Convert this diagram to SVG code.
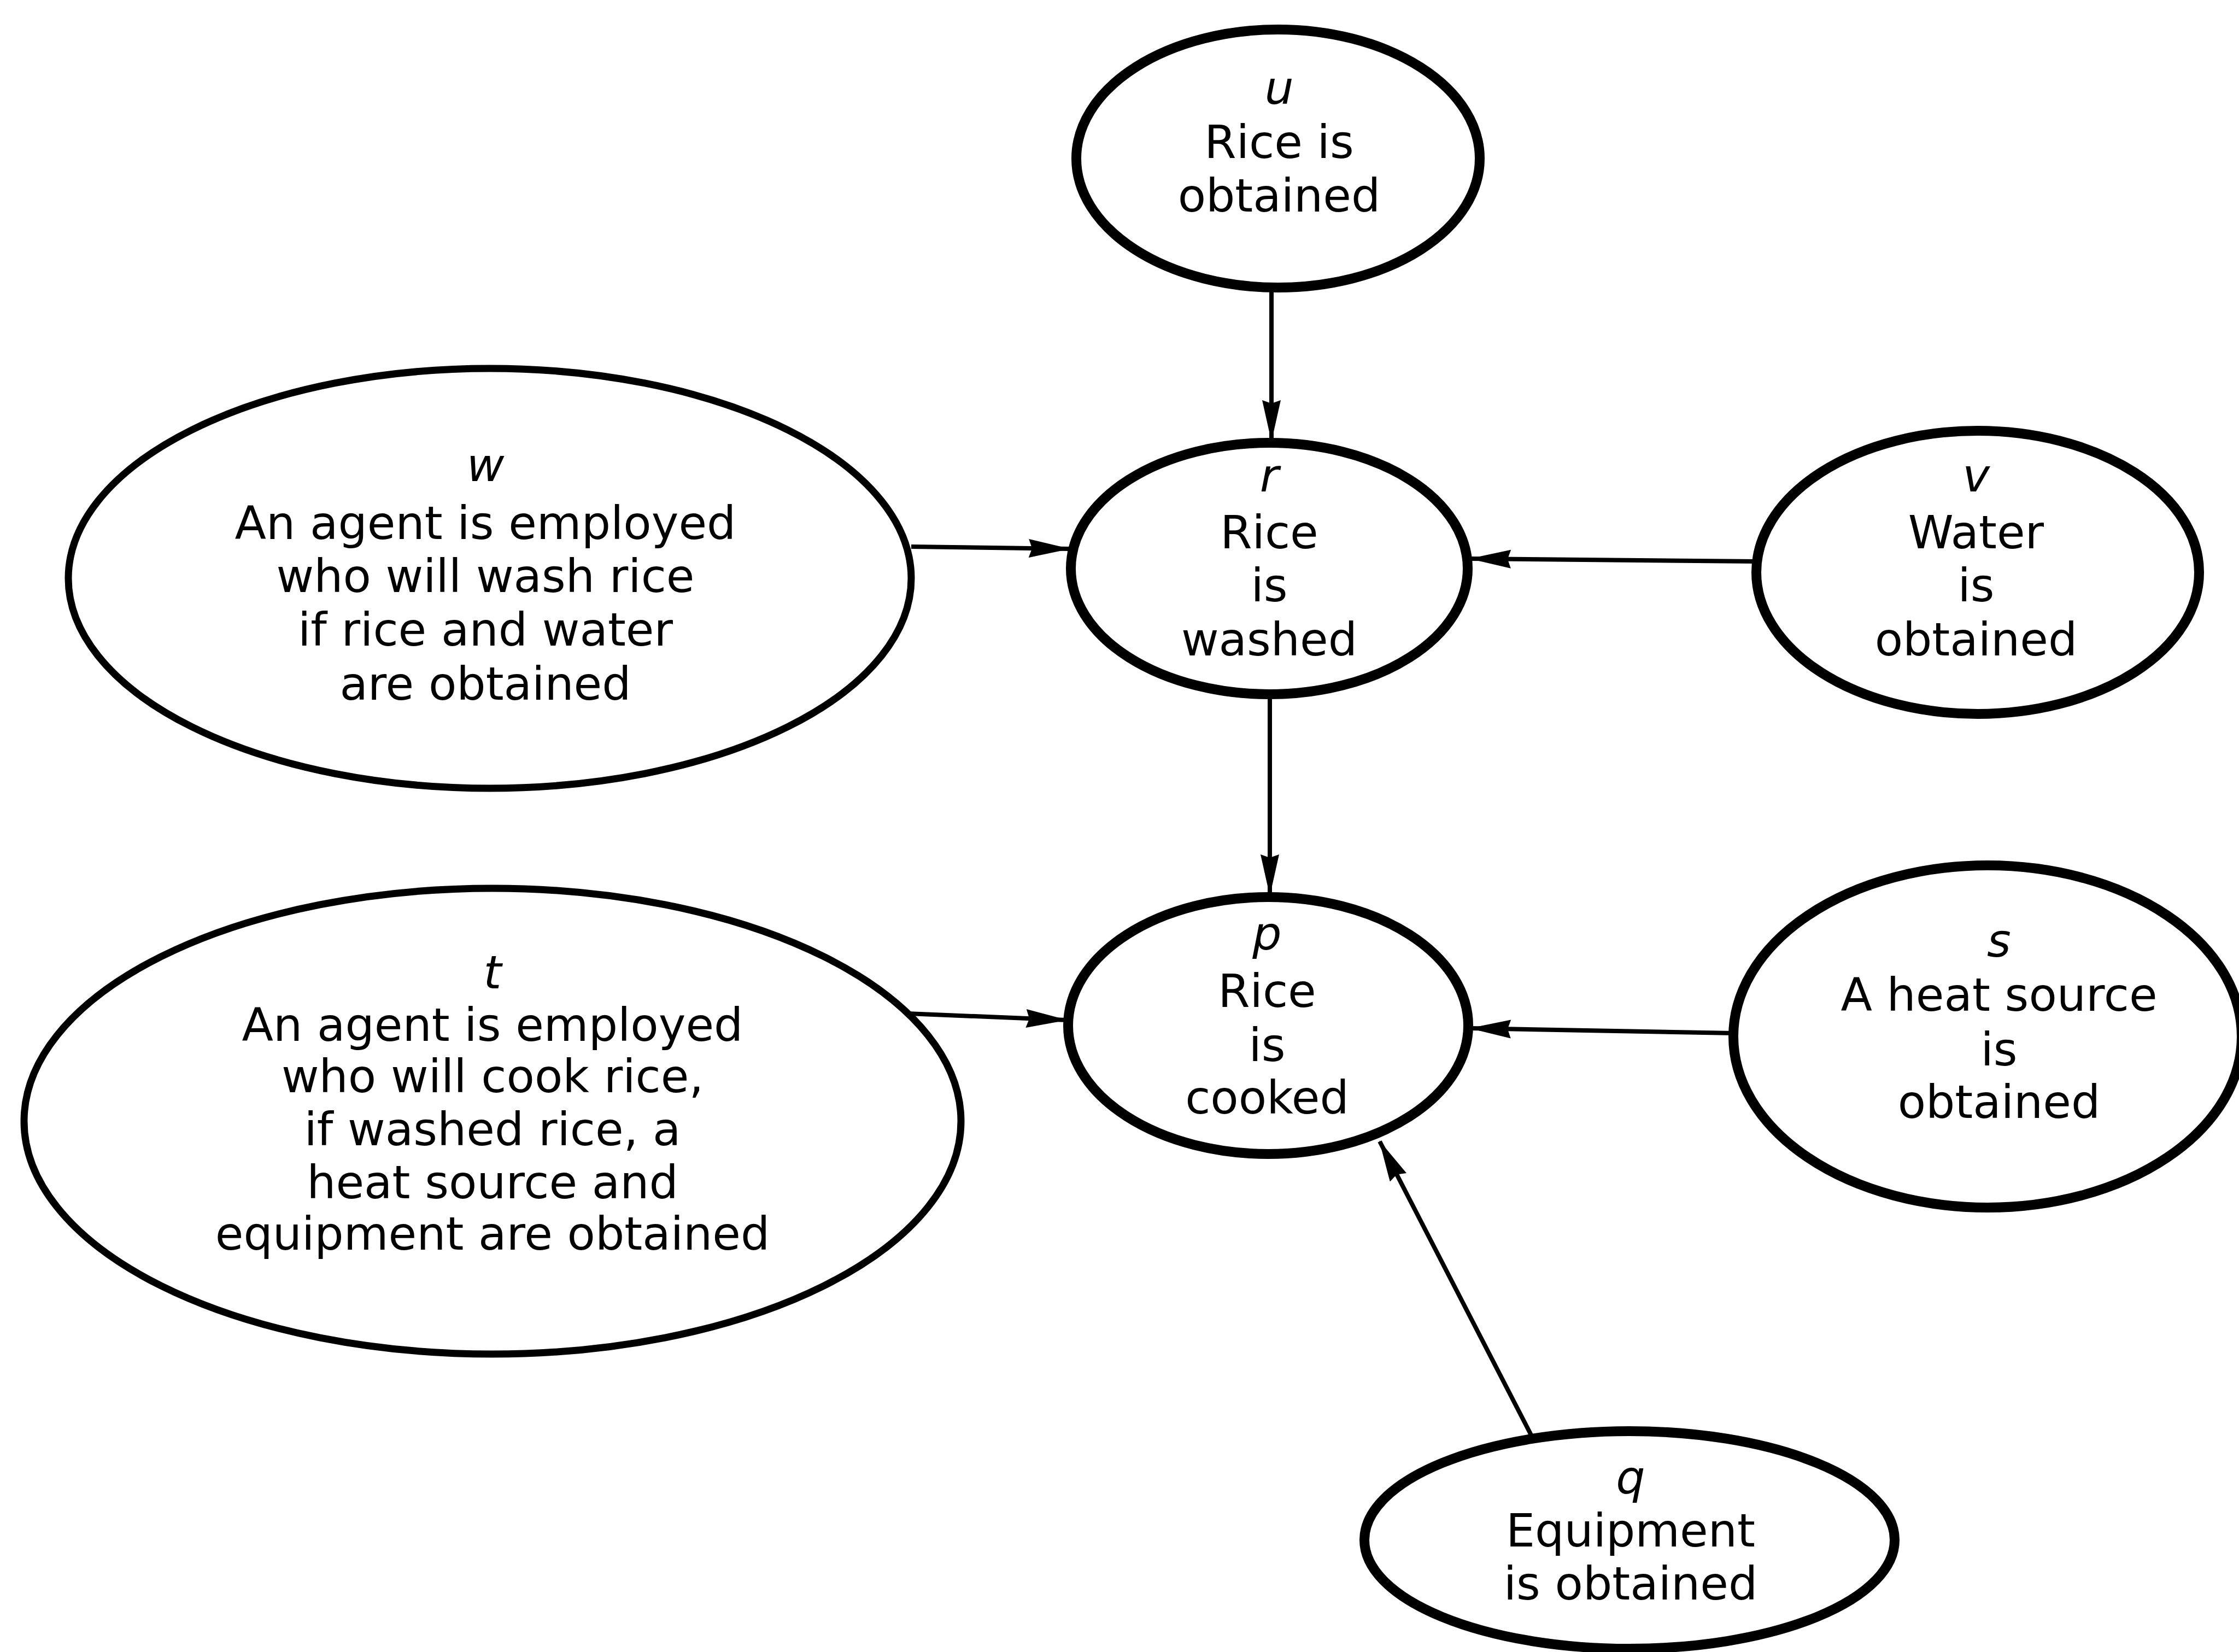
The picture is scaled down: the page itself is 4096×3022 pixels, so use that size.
<svg xmlns="http://www.w3.org/2000/svg" width="4096" height="3022" viewBox="0 0 4096 3022">
  <style>
    .node ellipse { fill: #ffffff; stroke: #000000; stroke-width: 18; }
    .node.wide ellipse { stroke-width: 13; }
    .node text { font-family: "DejaVu Sans", "Liberation Sans", sans-serif; font-size: 84px; fill: #000000; text-anchor: middle; }
    .node text.tag { font-style: italic; }
    .edges line { stroke: #000000; stroke-width: 8; fill: none; marker-end: url(#ah); }
  </style>
  <defs>
    <marker id="ah" viewBox="0 0 76 40" refX="74" refY="20" markerWidth="76" markerHeight="40" markerUnits="userSpaceOnUse" orient="auto">
      <path d="M0,3 L76,20 L0,37 L6,20 Z" fill="#000000"/>
    </marker>
  </defs>
  <rect width="4096" height="3022" fill="#ffffff"/>

  <!-- connectors -->
  <g id="edges" class="edges">
    <line id="u-r" x1="2326" y1="526" x2="2326" y2="806"/>
    <line id="w-r" x1="1667" y1="1000" x2="1956" y2="1004"/>
    <line id="v-r" x1="3213" y1="1027" x2="2690" y2="1022"/>
    <line id="r-p" x1="2323" y1="1270" x2="2323" y2="1637"/>
    <line id="t-p" x1="1636" y1="1853" x2="1951" y2="1866"/>
    <line id="s-p" x1="3172" y1="1890" x2="2690" y2="1881"/>
    <line id="q-p" x1="2801" y1="2625" x2="2524" y2="2088"/>
  </g>

  <!-- u: Rice is obtained -->
  <g id="node-u" class="node">
    <ellipse cx="2338" cy="290" rx="369" ry="236"/>
    <text class="tag" x="2340" y="190">u</text>
    <text x="2340" y="289">Rice is</text>
    <text x="2340" y="387">obtained</text>
  </g>

  <!-- r: Rice is washed -->
  <g id="node-r" class="node">
    <ellipse cx="2322" cy="1040" rx="363" ry="230"/>
    <text class="tag" x="2322" y="899">r</text>
    <text x="2322" y="1003">Rice</text>
    <text x="2322" y="1100">is</text>
    <text x="2322" y="1199">washed</text>
  </g>

  <!-- v: Water is obtained -->
  <g id="node-v" class="node">
    <ellipse cx="3618" cy="1047" rx="405" ry="259"/>
    <text class="tag" x="3615" y="899">v</text>
    <text x="3615" y="1003">Water</text>
    <text x="3615" y="1100">is</text>
    <text x="3615" y="1199">obtained</text>
  </g>

  <!-- w: washing agent -->
  <g id="node-w" class="node wide">
    <ellipse cx="896" cy="1058" rx="771" ry="384"/>
    <text class="tag" x="888" y="880">w</text>
    <text x="888" y="986">An agent is employed</text>
    <text x="888" y="1083">who will wash rice</text>
    <text x="888" y="1181">if rice and water</text>
    <text x="888" y="1280">are obtained</text>
  </g>

  <!-- p: Rice is cooked -->
  <g id="node-p" class="node">
    <ellipse cx="2320" cy="1876" rx="366" ry="235"/>
    <text class="tag" x="2318" y="1737">p</text>
    <text x="2318" y="1842">Rice</text>
    <text x="2318" y="1941">is</text>
    <text x="2318" y="2037">cooked</text>
  </g>

  <!-- s: A heat source is obtained -->
  <g id="node-s" class="node">
    <ellipse cx="3636" cy="1896" rx="465" ry="313"/>
    <text class="tag" x="3657" y="1750">s</text>
    <text x="3657" y="1849">A heat source</text>
    <text x="3657" y="1949">is</text>
    <text x="3657" y="2045">obtained</text>
  </g>

  <!-- t: cooking agent -->
  <g id="node-t" class="node wide">
    <ellipse cx="901" cy="2051" rx="857" ry="426"/>
    <text class="tag" x="901" y="1808">t</text>
    <text x="901" y="1904">An agent is employed</text>
    <text x="901" y="1998">who will cook rice,</text>
    <text x="901" y="2095">if washed rice, a</text>
    <text x="901" y="2192">heat source and</text>
    <text x="901" y="2286">equipment are obtained</text>
  </g>

  <!-- q: Equipment is obtained -->
  <g id="node-q" class="node">
    <ellipse cx="2981" cy="2817" rx="485" ry="199"/>
    <text class="tag" x="2983" y="2732">q</text>
    <text x="2983" y="2829">Equipment</text>
    <text x="2983" y="2926">is obtained</text>
  </g>
</svg>
